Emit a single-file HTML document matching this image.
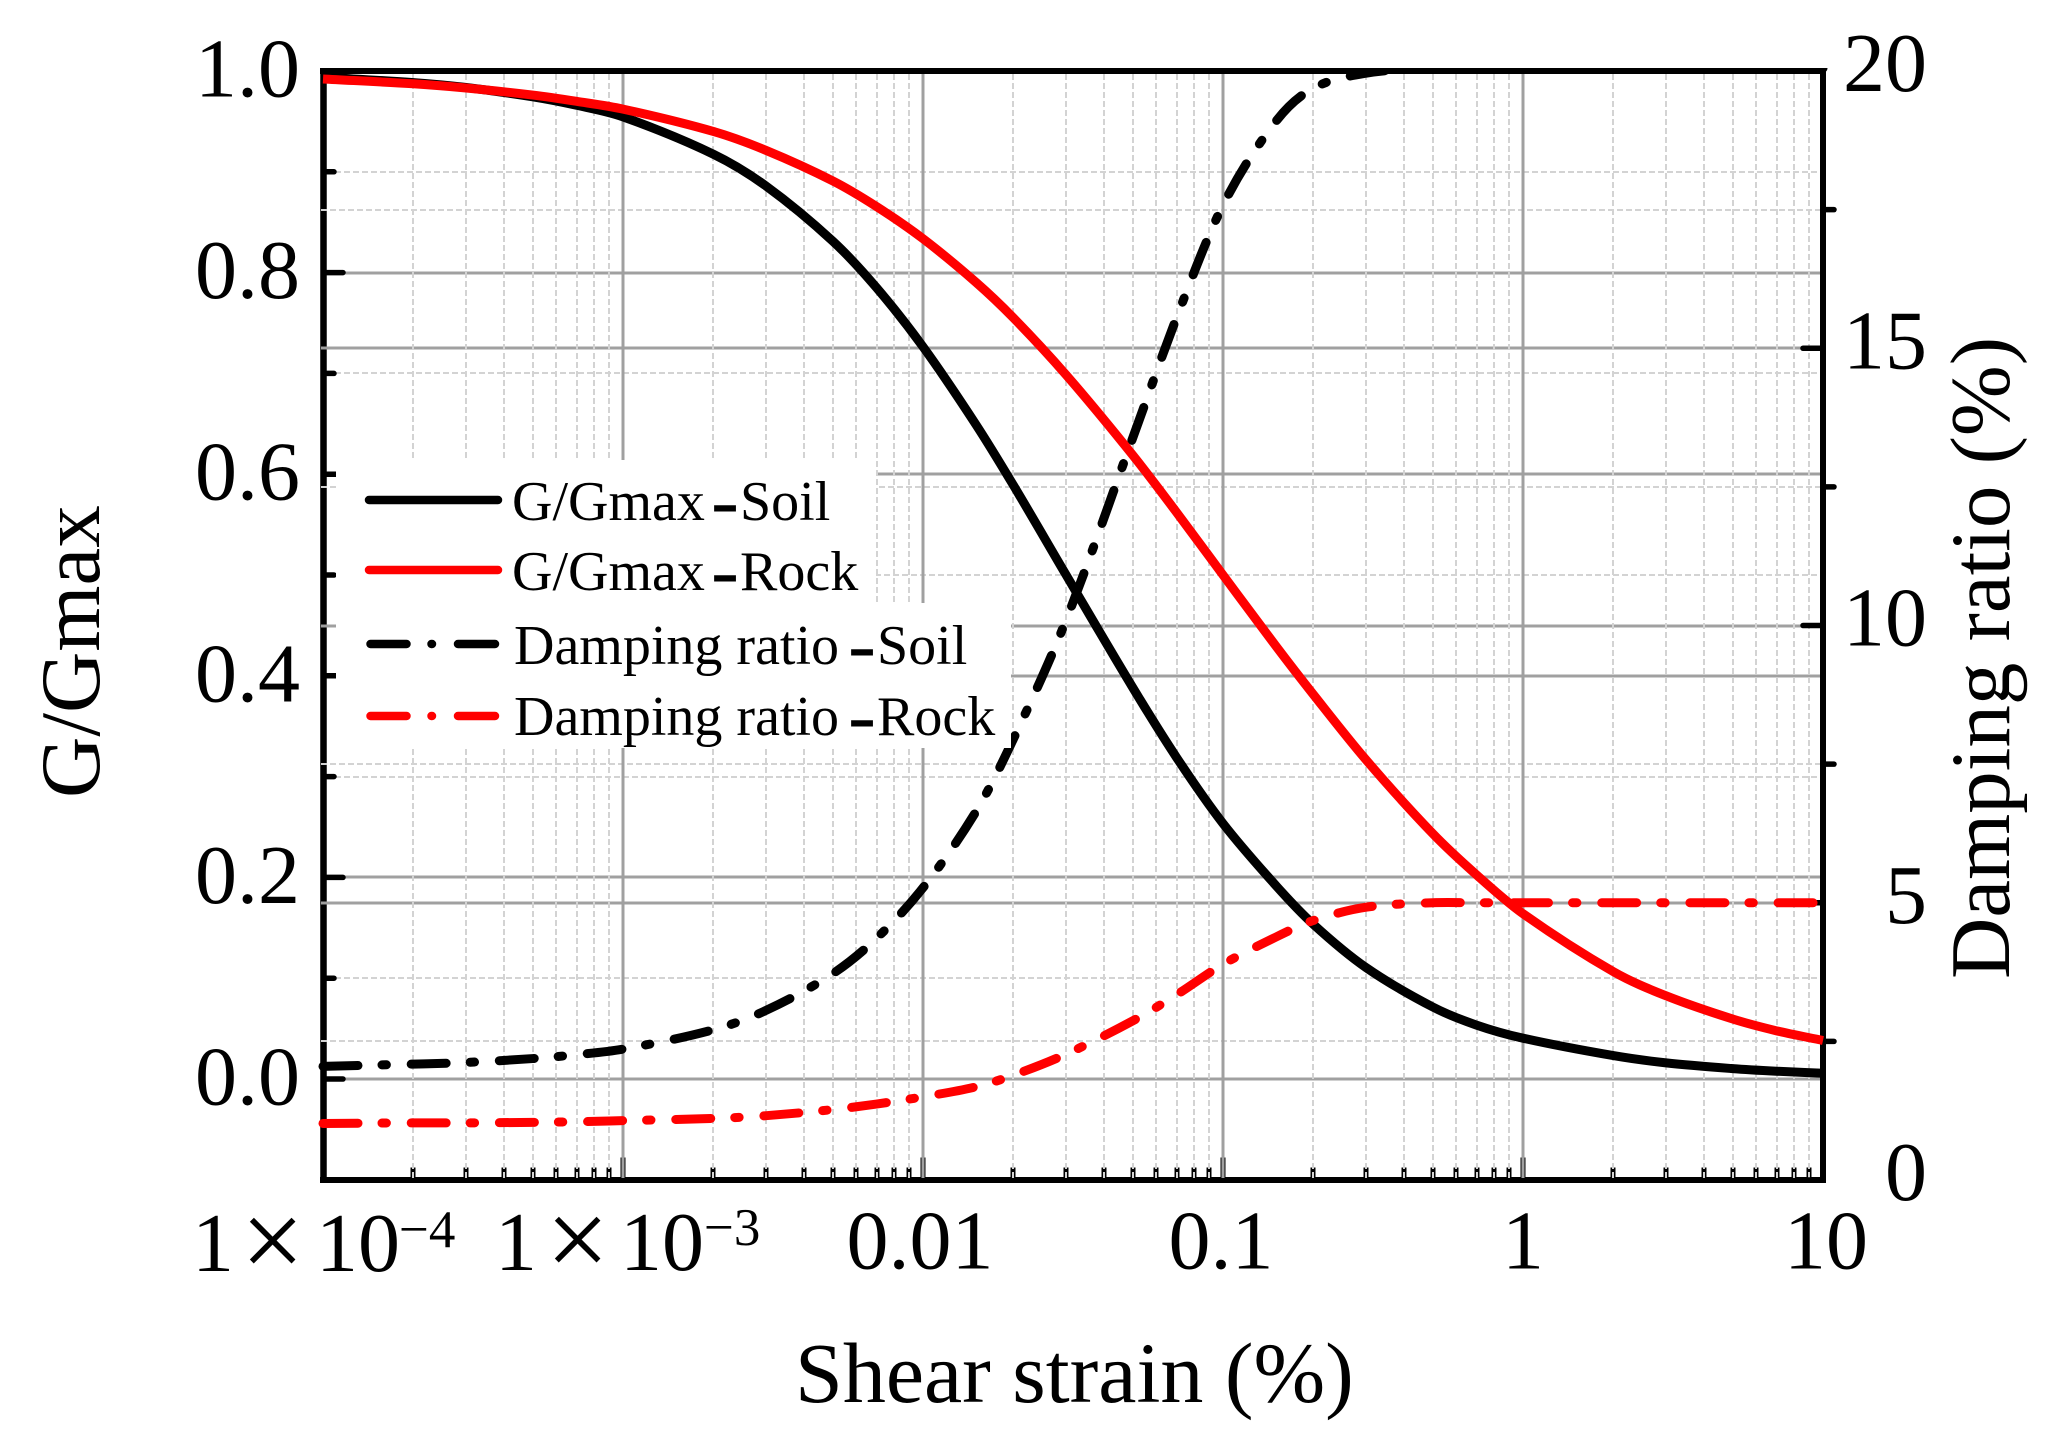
<!DOCTYPE html>
<html lang="en">
<head>
<meta charset="utf-8">
<title>Shear strain vs G/Gmax and damping ratio</title>
<style>
  html, body { margin: 0; padding: 0; background: #fff; }
  svg { display: block; }
  text { font-family: "Liberation Serif", "Noto Serif CJK SC", serif; fill: #000; }
</style>
</head>
<body>
<svg id="chart" xmlns="http://www.w3.org/2000/svg" width="2063" height="1450" viewBox="0 0 2063 1450">
  <rect x="0" y="0" width="2063" height="1450" fill="#fff"/>
  <defs>
    <clipPath id="plot-clip"><rect x="318" y="68" width="1510" height="1115"/></clipPath>
  </defs>
  <g id="grid-under" shape-rendering="crispEdges"></g>
  <g id="ticks"></g>
  <g id="frame">
    <line x1="323.5" y1="68" x2="323.5" y2="1183" stroke="#000" stroke-width="6.5"/>
    <line x1="1823" y1="68" x2="1823" y2="1183" stroke="#000" stroke-width="6"/>
    <line x1="320" y1="71" x2="1826" y2="71" stroke="#000" stroke-width="6"/>
    <line x1="320" y1="1180" x2="1826" y2="1180" stroke="#000" stroke-width="6"/>
  </g>
  <g id="grid-over" shape-rendering="crispEdges"></g>
  <g id="y-ticks"></g>
  <g id="curves" clip-path="url(#plot-clip)" fill="none" stroke-width="9"></g>
  <g id="tick-labels" font-size="84"></g>

  <g font-size="84">
    <text y="1271"><tspan x="192">1</tspan><tspan x="241" y="1278" font-size="112">×</tspan><tspan x="316" y="1271">10</tspan><tspan x="399" y="1247" font-size="53">−4</tspan></text>
    <text y="1270"><tspan x="495">1</tspan><tspan x="546" y="1277" font-size="112">×</tspan><tspan x="620" y="1270">10</tspan><tspan x="704" y="1245" font-size="53">−3</tspan></text>
  </g>

  <text x="795" y="1402" font-size="86">Shear strain (%)</text>
  <text transform="translate(99 798) rotate(-90)" font-size="85">G/Gmax</text>
  <text transform="translate(2009 979) rotate(-90)" font-size="85">Damping ratio (%)</text>

  <g>
    <rect x="336" y="460" width="540" height="144" fill="#fff"/>
    <rect x="336" y="603" width="675" height="145" fill="#fff"/>
    <g>
      <line x1="369" y1="500" x2="498" y2="500" stroke="#000" stroke-width="8.5" stroke-linecap="round"/>
      <text y="520" font-size="56"><tspan x="512">G/Gmax</tspan><tspan x="711" y="528" font-size="84">-</tspan><tspan x="740" y="520">Soil</tspan></text>
    </g>
    <g>
      <line x1="369" y1="570" x2="498" y2="570" stroke="#f00" stroke-width="8.5" stroke-linecap="round"/>
      <text y="590" font-size="56"><tspan x="512">G/Gmax</tspan><tspan x="711" y="598" font-size="84">-</tspan><tspan x="740" y="590">Rock</tspan></text>
    </g>
    <g>
      <line x1="370.5" y1="644" x2="495" y2="644" stroke="#000" stroke-width="8.5" stroke-linecap="round" stroke-dasharray="36 25 0.5 26 37"/>
      <text y="664" font-size="56"><tspan x="514">Damping ratio</tspan><tspan x="848" y="672" font-size="84">-</tspan><tspan x="877" y="664">Soil</tspan></text>
    </g>
    <g>
      <line x1="370.5" y1="716" x2="495" y2="716" stroke="#f00" stroke-width="8.5" stroke-linecap="round" stroke-dasharray="36 25 0.5 26 37"/>
      <text y="735" font-size="56"><tspan x="514">Damping ratio</tspan><tspan x="848" y="743" font-size="84">-</tspan><tspan x="877" y="735">Rock</tspan></text>
    </g>
  </g>
</svg>

<script>
// ---- chart data ----
const strain = [
  0.0001, 0.0002, 0.0003, 0.0005, 0.0007,
  0.001, 0.002, 0.003, 0.005, 0.007,
  0.01, 0.015, 0.02, 0.03, 0.05, 0.07,
  0.1, 0.15, 0.2, 0.3, 0.5, 0.7,
  1, 2, 3, 5, 7,
  10
];
const gSoil = [
  0.9938, 0.9885, 0.9836, 0.9744, 0.966,
  0.9545, 0.9175, 0.8858, 0.8313, 0.785,
  0.7264, 0.6494, 0.5892, 0.5, 0.3884, 0.319,
  0.2535, 0.192, 0.1535, 0.1105, 0.0715, 0.0535,
  0.0405, 0.0232, 0.016, 0.0103, 0.0077,
  0.0057
];
const gRock = [
  0.9921, 0.9873, 0.9831, 0.9761, 0.9699,
  0.9622, 0.94, 0.9212, 0.891, 0.8655,
  0.8336, 0.7905, 0.7552, 0.6985, 0.619, 0.5622,
  0.5, 0.4296, 0.3815, 0.3165, 0.2435, 0.2025,
  0.164, 0.1065, 0.0825, 0.0595, 0.0478,
  0.0382
];
const dampingSoil = [
  2.05, 2.09, 2.12, 2.19, 2.26,
  2.36, 2.71, 3.06, 3.72, 4.36,
  5.27, 6.64, 7.95, 10.1, 13.38, 15.55,
  17.58, 19.09, 19.69, 19.96, 20.05, 20.05,
  20.05, 20.05, 20.05, 20.05, 20.05,
  20.05
];
const dampingRock = [
  1.02, 1.03, 1.03, 1.04, 1.05,
  1.07, 1.11, 1.16, 1.27, 1.37,
  1.5, 1.68, 1.89, 2.27, 2.87, 3.34,
  3.89, 4.38, 4.68, 4.92, 5, 5,
  5, 5, 5, 5, 5,
  5
];
const xDecadeValues = [0.0001, 0.001, 0.01, 0.1, 1, 10];
const xMinorMultipliers = [2, 3, 4, 5, 6, 7, 8, 9];
const xTickLabels = ["0.01", "0.1", "1", "10"];
const xTickLabelValues = [0.01, 0.1, 1, 10];
const leftMajorValues = [0, 0.2, 0.4, 0.6, 0.8, 1];
const leftMajorLabels = ["0.0", "0.2", "0.4", "0.6", "0.8", "1.0"];
const leftMinorValues = [0.1, 0.3, 0.5, 0.7, 0.9];
const rightMajorValues = [0, 5, 10, 15, 20];
const rightMajorLabels = ["0", "5", "10", "15", "20"];
const rightMinorValues = [2.5, 7.5, 12.5, 17.5];

// ---- axis functions ----
function xScale(v) { return 323 + (Math.log10(v) + 4) * 300; }
function yLeft(v) { return 1079 - v * 1008; }
function yRight(v) { return 1180 - v * 55.45; }

const NS = 'http://www.w3.org/2000/svg';
function lineEl(parent, x1, y1, x2, y2, stroke, width, dash, cap) {
  const l = document.createElementNS(NS, 'line');
  l.setAttribute('x1', x1);
  l.setAttribute('y1', y1);
  l.setAttribute('x2', x2);
  l.setAttribute('y2', y2);
  l.setAttribute('stroke', stroke);
  l.setAttribute('stroke-width', width);
  if (dash) l.setAttribute('stroke-dasharray', dash);
  if (cap) l.setAttribute('stroke-linecap', cap);
  parent.appendChild(l);
  return l;
}
function textEl(parent, x, y, anchor, str) {
  const t = document.createElementNS(NS, 'text');
  t.setAttribute('x', x);
  t.setAttribute('y', y);
  t.setAttribute('text-anchor', anchor);
  t.textContent = str;
  parent.appendChild(t);
  return t;
}

const MAJOR = '#a0a0a0', MINOR = '#d3d3d3', DASH = '6 3';
const gUnder = document.getElementById('grid-under');
const gOver = document.getElementById('grid-over');
const gTicks = document.getElementById('ticks');
const gYTicks = document.getElementById('y-ticks');
const gLabels = document.getElementById('tick-labels');
const gCurves = document.getElementById('curves');

// left-axis gridlines (beneath axis), ticks and labels
leftMajorValues.forEach(function (v, i) {
  const y = Math.round(yLeft(v));
  if (v < 1) {
    const g = lineEl(gUnder, 323, y, 1820, y, MAJOR, 3);
    
    
    const t = lineEl(gYTicks, 326, yLeft(v), 343, yLeft(v), '#000', 5.5, null, 'round');
    
    
  }
  const lab = textEl(gLabels, 300, yLeft(v) + 25.5, 'end', leftMajorLabels[i]);
  
  
});
leftMinorValues.forEach(function (v) {
  const y = Math.round(yLeft(v));
  const g = lineEl(gUnder, 326, y, 1820, y, MINOR, 2, DASH);
  
  
  const t = lineEl(gYTicks, 326, yLeft(v), 334, yLeft(v), '#000', 5.5, null, 'round');
  
  
});

// right-axis gridlines, ticks and labels
rightMajorValues.forEach(function (v, i) {
  const y = Math.round(yRight(v));
  if (v > 0 && v < 20) {
    const g = lineEl(gOver, 321, y, 1820, y, MAJOR, 3);
    
    
  }
  const t = lineEl(gYTicks, 1803, yRight(v), 1820, yRight(v), '#000', 5.5, null, 'round');
  
  
  const lab = textEl(gLabels, 1927, yRight(v) + 20, 'end', rightMajorLabels[i]);
  
  
});
rightMinorValues.forEach(function (v) {
  const y = Math.round(yRight(v));
  const g = lineEl(gOver, 321, y, 1820, y, MINOR, 2, DASH);
  
  
  const t = lineEl(gYTicks, 1825, yRight(v), 1834, yRight(v), '#000', 5.5, null, 'round');
  
  
});

// strain (x) gridlines and ticks
xDecadeValues.forEach(function (d, i) {
  if (i > 0 && i < xDecadeValues.length - 1) {
    const x = Math.round(xScale(d));
    const t = lineEl(gTicks, x, 1157.5, x, 1178, '#000', 5);
    
    
    const g = lineEl(gOver, x, 74, x, 1178, MAJOR, 3);
    
    
  }
  if (i < xDecadeValues.length - 1) {
    xMinorMultipliers.forEach(function (m) {
      const x = Math.round(xScale(d * m));
      const t = lineEl(gTicks, x, 1167.5, x, 1178, '#000', 5);
      
      
      const g = lineEl(gOver, x, 74, x, 1178, MINOR, 2, DASH);
      
      
    });
  }
});
xTickLabels.forEach(function (s, i) {
  const cx = xScale(xTickLabelValues[i]) + (i === 3 ? 3 : (i === 0 ? -3 : (i === 1 ? -2 : 0)));
  const lab = textEl(gLabels, cx, 1268.5, 'middle', s);
  
  
});

// curves
function curvePath(xs, ys, yFn) {
  const p = xs.map(function (x, i) { return [xScale(x), yFn(ys[i])]; });
  let d = 'M' + p[0][0].toFixed(2) + ' ' + p[0][1].toFixed(2);
  for (let i = 0; i < p.length - 1; i++) {
    const a = p[Math.max(i - 1, 0)], b = p[i], c = p[i + 1], e = p[Math.min(i + 2, p.length - 1)];
    const h1 = c[0] - b[0];
    const m1 = (c[1] - a[1]) / ((c[0] - a[0]) || 1);
    const m2 = (e[1] - b[1]) / ((e[0] - b[0]) || 1);
    const c1x = b[0] + h1 / 3, c1y = b[1] + m1 * h1 / 3;
    const c2x = c[0] - h1 / 3, c2y = c[1] - m2 * h1 / 3;
    d += 'C' + c1x.toFixed(2) + ' ' + c1y.toFixed(2) + ' ' + c2x.toFixed(2) + ' ' + c2y.toFixed(2) + ' ' + c[0].toFixed(2) + ' ' + c[1].toFixed(2);
  }
  return d;
}
function addCurve(ys, yFn, color, dashed) {
  const path = document.createElementNS(NS, 'path');
  path.setAttribute('d', curvePath(strain, ys, yFn));
  path.setAttribute('stroke', color);
  if (dashed) {
    path.setAttribute('stroke-dasharray', '35 24 4.4 24.8');
    path.setAttribute('stroke-linecap', 'round');
  }
  gCurves.appendChild(path);
  return path;
}
const curveDampingSoil = addCurve(dampingSoil, yRight, '#000', true);


const curveGSoil = addCurve(gSoil, yLeft, '#000', false);


const curveGRock = addCurve(gRock, yLeft, '#f00', false);


const curveDampingRock = addCurve(dampingRock, yRight, '#f00', true);


</script>
</body>
</html>
